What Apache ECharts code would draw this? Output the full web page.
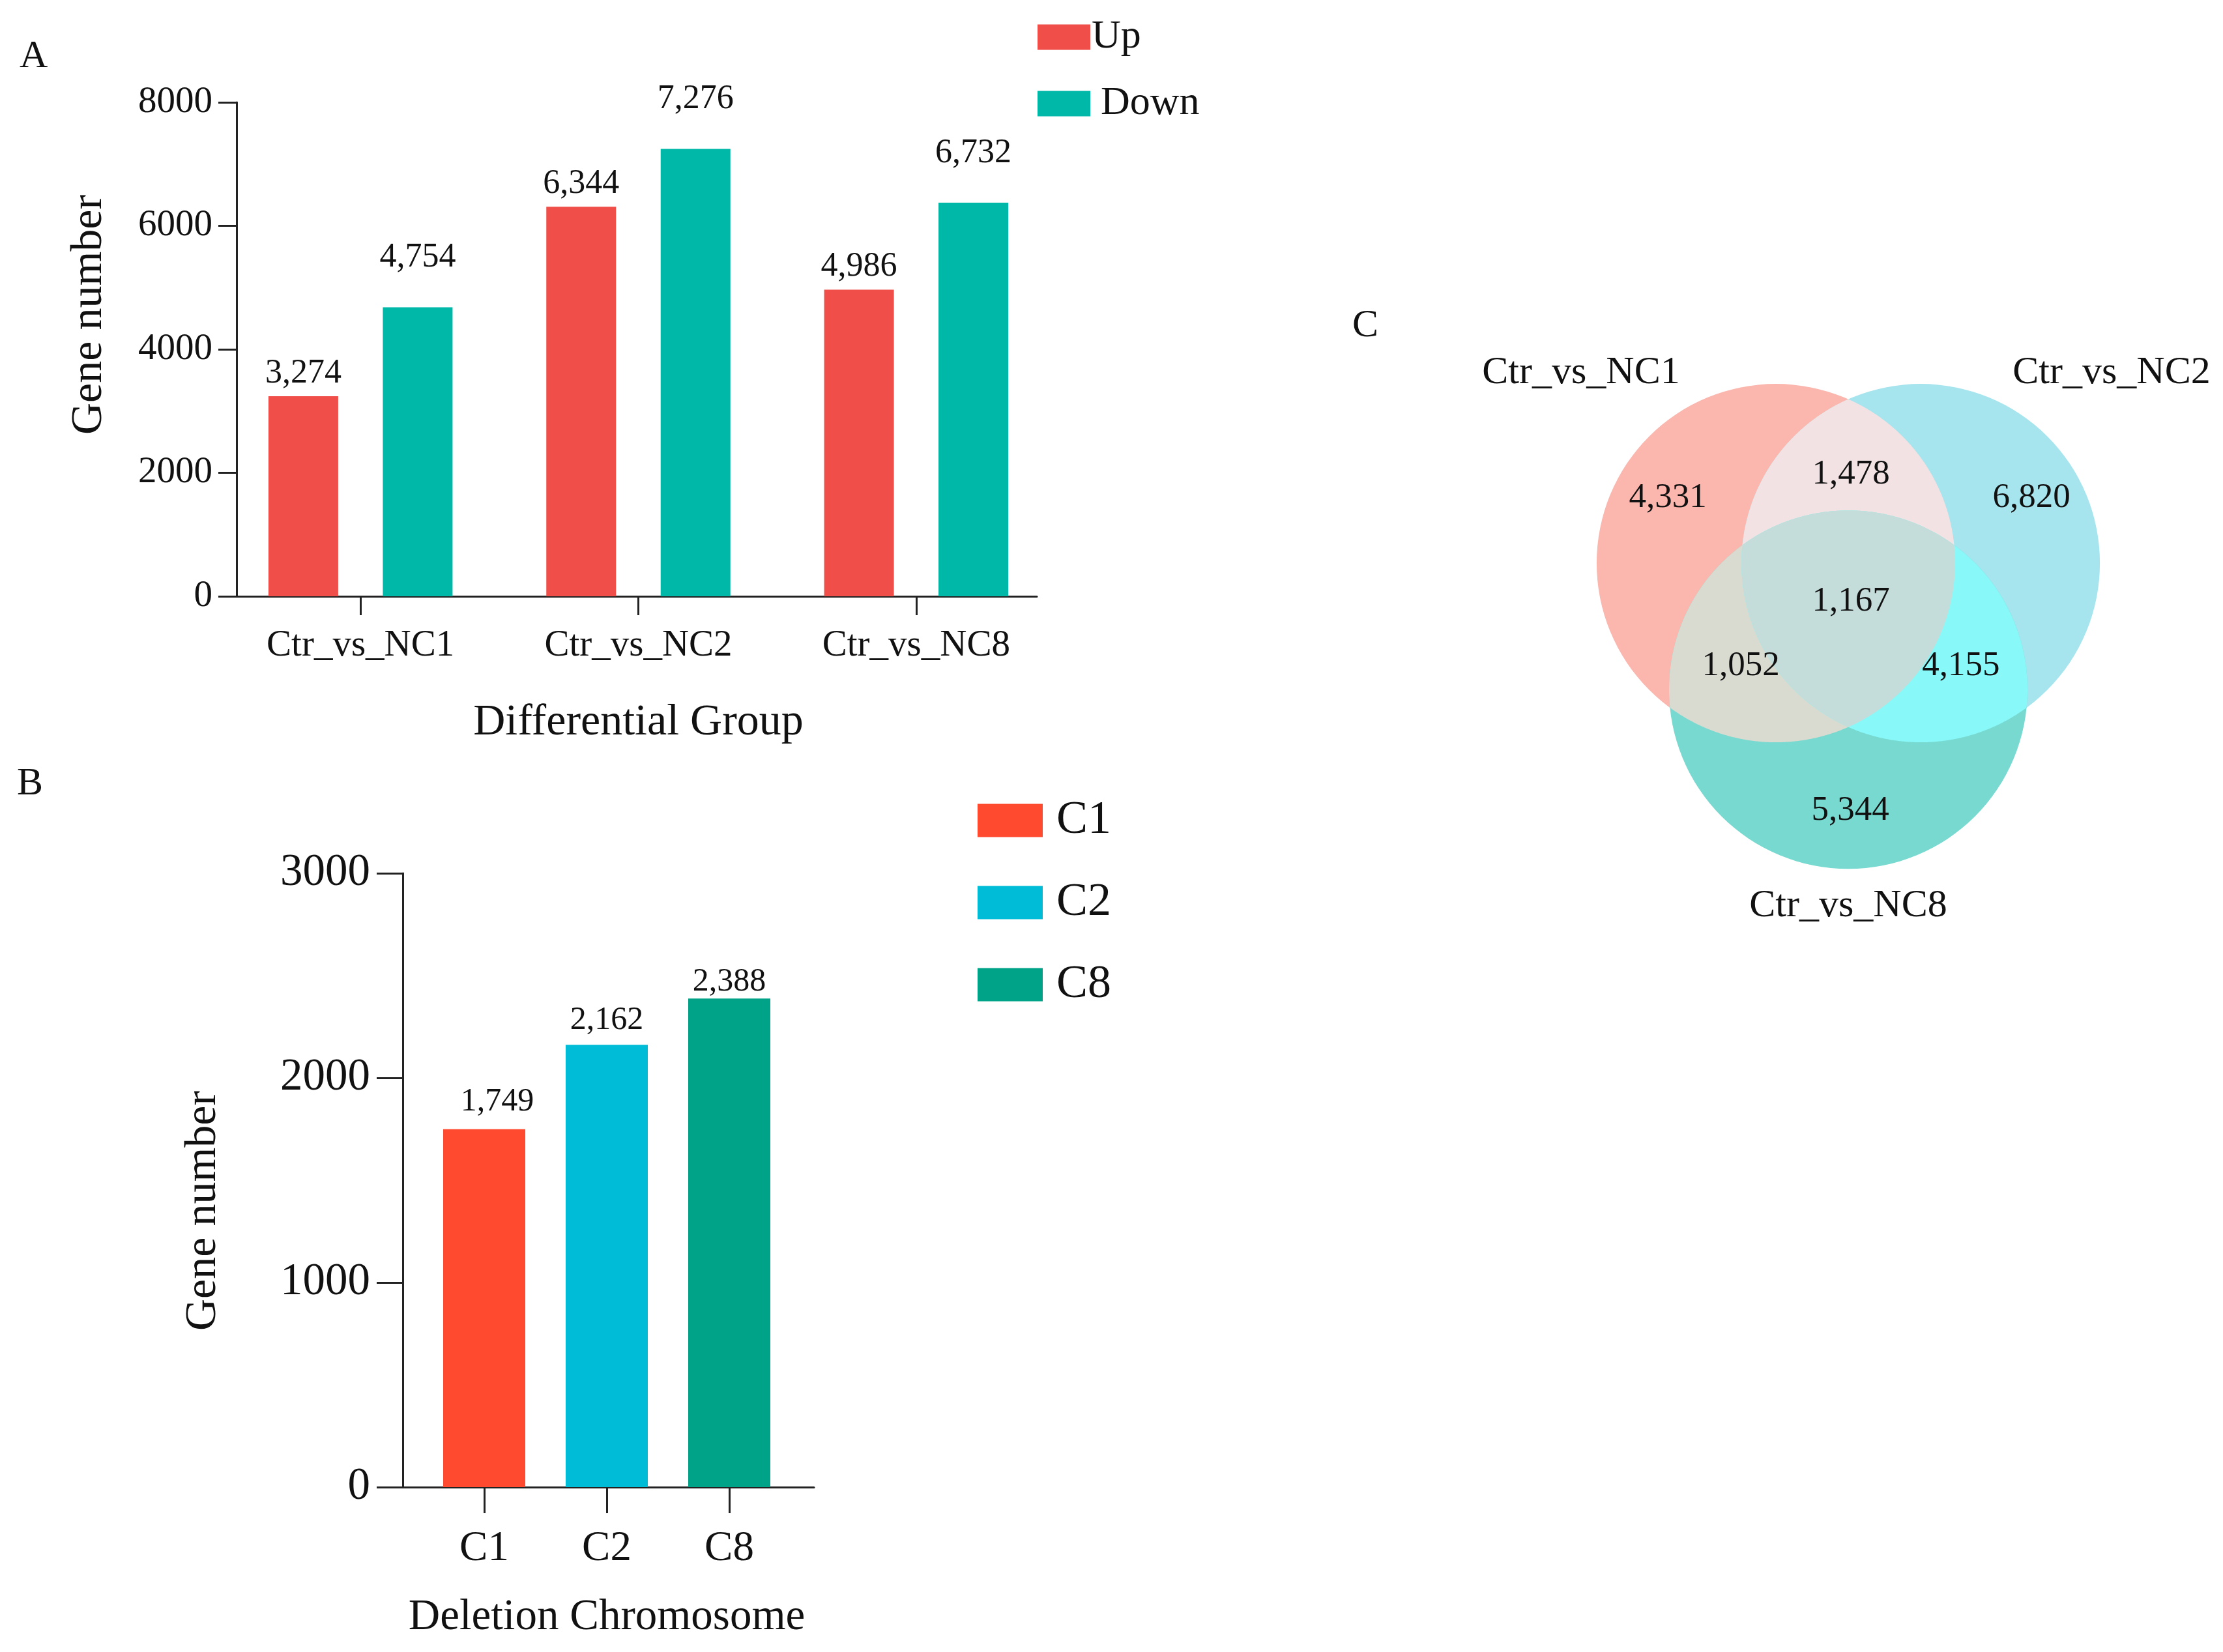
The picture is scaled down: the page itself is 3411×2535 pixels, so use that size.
<!DOCTYPE html>
<html>
<head>
<meta charset="utf-8">
<title>Differential genes</title>
<script src="https://cdn.jsdelivr.net/npm/echarts@6.0.0/dist/echarts.min.js"></script>
<style>
	html, body { margin: 0; padding: 0; background: #fff; }
	#main { width: 3411px; height: 2535px; }
</style>
</head>
<body>
<div id="main"></div>
<script>
// A: up / down regulated genes per comparison (bar heights, labels as printed)
const groups = ['Ctr_vs_NC1', 'Ctr_vs_NC2', 'Ctr_vs_NC8'];
const upBars = [3240, 6310, 4965];
const downBars = [4680, 7245, 6375];
const upLabels = ['3,274', '6,344', '4,986'];
const downLabels = ['4,754', '7,276', '6,732'];

// B: genes on the deleted chromosome
const chromosomes = ['C1', 'C2', 'C8'];
const deletionGenes = [1749, 2162, 2388];

// C: venn regions, members are indexes into vennSets
const vennSets = ['Ctr_vs_NC1', 'Ctr_vs_NC2', 'Ctr_vs_NC8'];
const vennRegions = [[0], [1], [2], [0, 1], [0, 2], [1, 2], [0, 1, 2]];
const vennCounts = ['4,331', '6,820', '5,344', '1,478', '1,052', '4,155', '1,167'];

// venn layout, in circle radius units
const vennCenters = [[-0.404, 0.236], [0.404, 0.236], [0, -0.47]];
const vennNamePos = [[-1.491, 1.298], [1.469, 1.298], [0, -1.676]];
const vennCountPos = [[-1.007, 0.6], [1.022, 0.6], [0.011, -1.145], [0.015, 0.731], [-0.6, -0.338], [0.629, -0.338], [0.015, 0.022]];
const vennColors = ['#FBB6AE', '#A6E4EE', '#77D9CF', '#F2E2E3', '#D9DBD0', '#88F8F8', '#C4DDDA'];

const serif = 'Liberation Serif';
const ink = '#111';
const lineStyle = {color: '#222', width: 3};
const plain = v => String(v);
const hiddenAxis = (gridIndex, min, max) => ({gridIndex, type: 'value', min, max, show: false});
const lineOnly = gridIndex => ({
	gridIndex, type: 'value', min: 0, max: 1,
	axisLine: {show: true, onZero: false, lineStyle},
	axisTick: {show: false}, axisLabel: {show: false}, splitLine: {show: false}
});

const chart = echarts.init(document.getElementById('main'), null, {renderer: 'canvas'});

// intersection of the member discs, traced by rays from a point inside it
function regionShape(params, api) {
	const members = vennRegions[params.dataIndex];
	const cs = members.map(k => api.coord(vennCenters[k]));
	const r = api.size([1, 1])[0];
	const fill = vennColors[params.dataIndex];
	if (cs.length === 1) {
		return {type: 'circle', shape: {cx: cs[0][0], cy: cs[0][1], r}, style: {fill}};
	}
	const px = cs.reduce((s, c) => s + c[0], 0) / cs.length;
	const py = cs.reduce((s, c) => s + c[1], 0) / cs.length;
	const points = [];
	for (let a = 0; a < 720; a++) {
		const th = a / 720 * Math.PI * 2;
		const ux = Math.cos(th), uy = Math.sin(th);
		let t = Infinity;
		cs.forEach(c => {
			const wx = px - c[0], wy = py - c[1];
			const b = ux * wx + uy * wy;
			const cc = wx * wx + wy * wy - r * r;
			t = Math.min(t, -b + Math.sqrt(b * b - cc));
		});
		points.push([px + t * ux, py + t * uy]);
	}
	return {type: 'polygon', shape: {points}, style: {fill}};
}

const barLabel = (distance, formatter) => ({
	show: true, position: 'top', distance, formatter,
	fontSize: 52, fontFamily: serif, color: ink
});

const bSeries = chromosomes.map((c, k) => ({
	name: c,
	type: 'bar',
	stack: 'deleted',
	xAxisIndex: 3,
	yAxisIndex: 3,
	barWidth: 126,
	data: deletionGenes.map((v, i) => (i === k ? v : '-')),
	itemStyle: {color: ['#FF4A2F', '#00BCD6', '#00A387'][k]},
	label: Object.assign(barLabel([17, 12, 0][k], p => p.value.toLocaleString('en-US')), {
		fontSize: 50, offset: [k === 0 ? 20 : 0, 0]
	})
}));

const textLabels = (names, positions, fontSize) => ({
	type: 'scatter', xAxisIndex: 4, yAxisIndex: 4, silent: true, z: 5,
	symbolSize: 0,
	itemStyle: {opacity: 1},
	data: positions.map((p, i) => ({name: names[i], value: p})),
	label: {show: true, position: 'inside', formatter: '{b}', fontSize, fontFamily: serif, color: ink, opacity: 1}
});

chart.setOption({
	animation: false,
	backgroundColor: '#fff',
	textStyle: {fontFamily: serif},
	title: [
		{text: 'A', left: 30, top: 57, padding: 0, textStyle: {fontSize: 60, fontWeight: 'normal', fontFamily: serif, color: ink}},
		{text: 'B', left: 26, top: 1173, padding: 0, textStyle: {fontSize: 60, fontWeight: 'normal', fontFamily: serif, color: ink}},
		{text: 'C', left: 2075, top: 470, padding: 0, textStyle: {fontSize: 60, fontWeight: 'normal', fontFamily: serif, color: ink}}
	],
	legend: [
		{
			left: 1592, top: 26, orient: 'vertical', padding: 0, icon: 'rect',
			itemWidth: 81, itemHeight: 39, itemGap: 40, selectedMode: false,
			textStyle: {fontSize: 62, fontFamily: serif, color: ink, padding: [0, 0, 0, -3]},
			data: [{name: 'Up'}, {name: 'Down', textStyle: {padding: [0, 0, 0, 11]}}]
		},
		{
			left: 1500, top: 1223, orient: 'vertical', padding: 0, icon: 'rect',
			itemWidth: 100, itemHeight: 51, itemGap: 54, selectedMode: false,
			textStyle: {fontSize: 72, fontFamily: serif, color: ink, padding: [0, 0, 0, 16]},
			data: chromosomes
		}
	],
	grid: [
		{left: 363, top: 157, width: 1228, height: 758},
		{left: 340, top: 157, width: 1279, height: 758},
		{left: 618, top: 1340, width: 631, height: 942},
		{left: 649, top: 1340, width: 564, height: 942},
		{left: 2286, top: 379, width: 1100, height: 1100}
	],
	xAxis: [
		lineOnly(0),
		{
			gridIndex: 1, type: 'category', data: groups,
			axisLine: {show: false},
			axisTick: {show: true, alignWithLabel: true, length: 29, lineStyle},
			axisLabel: {margin: 48, fontSize: 57, fontFamily: serif, color: ink},
			name: 'Differential Group', nameLocation: 'middle', nameGap: 160,
			nameTextStyle: {fontSize: 68, fontFamily: serif, color: ink}
		},
		lineOnly(2),
		{
			gridIndex: 3, type: 'category', data: chromosomes,
			axisLine: {show: false},
			axisTick: {show: true, alignWithLabel: true, length: 40, lineStyle},
			axisLabel: {margin: 62, fontSize: 65, fontFamily: serif, color: ink},
			name: 'Deletion Chromosome', nameLocation: 'middle', nameGap: 167,
			nameTextStyle: {fontSize: 67, fontFamily: serif, color: ink}
		},
		hiddenAxis(4, -2, 2)
	],
	yAxis: [
		{
			gridIndex: 0, type: 'value', min: 0, max: 8000, interval: 2000,
			axisLine: {show: true, lineStyle},
			axisTick: {show: true, length: 28, lineStyle},
			axisLabel: {margin: 37, fontSize: 57, fontFamily: serif, color: ink, formatter: plain},
			splitLine: {show: false},
			name: 'Gene number', nameLocation: 'middle', nameGap: 192,
			nameTextStyle: {fontSize: 68, fontFamily: serif, color: ink, padding: [0, 0, 0, 106]}
		},
		hiddenAxis(1, 0, 8000),
		{
			gridIndex: 2, type: 'value', min: 0, max: 3000, interval: 1000,
			axisLine: {show: true, lineStyle},
			axisTick: {show: true, length: 40, lineStyle},
			axisLabel: {margin: 50, fontSize: 69, fontFamily: serif, color: ink, formatter: plain},
			splitLine: {show: false},
			name: 'Gene number', nameLocation: 'middle', nameGap: 272,
			nameTextStyle: {fontSize: 68, fontFamily: serif, color: ink, padding: [0, 94, 0, 0]}
		},
		hiddenAxis(3, 0, 3000),
		hiddenAxis(4, -2, 2)
	],
	series: [
		{
			name: 'Up', type: 'bar', xAxisIndex: 1, yAxisIndex: 1,
			data: upBars, barWidth: 107, barGap: '64%',
			itemStyle: {color: '#EF4F48'},
			label: barLabel(9, p => upLabels[p.dataIndex])
		},
		{
			name: 'Down', type: 'bar', xAxisIndex: 1, yAxisIndex: 1,
			data: downBars, barWidth: 107, barGap: '64%',
			itemStyle: {color: '#00B8A8'},
			label: barLabel(50, p => downLabels[p.dataIndex])
		},
		...bSeries,
		{
			type: 'custom', xAxisIndex: 4, yAxisIndex: 4, silent: true, clip: false,
			data: vennRegions.map(() => [0, 0]),
			renderItem: regionShape
		},
		textLabels(vennCounts, vennCountPos, 53),
		textLabels(vennSets, vennNamePos, 60)
	]
});
</script>
</body>
</html>
